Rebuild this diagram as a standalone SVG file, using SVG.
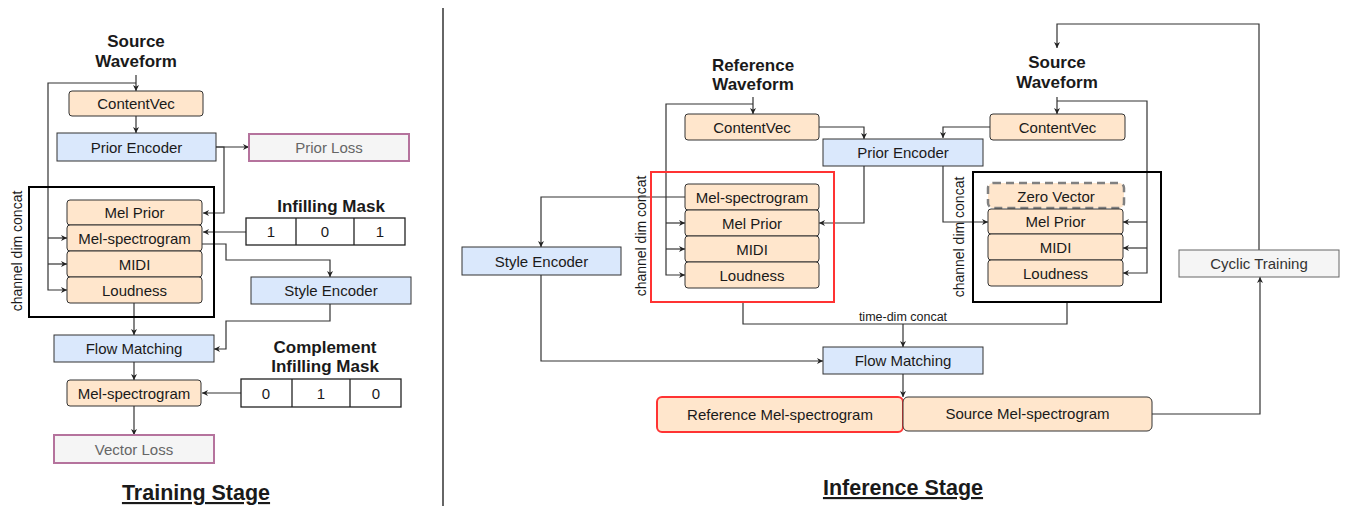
<svg xmlns="http://www.w3.org/2000/svg" width="1345" height="506" viewBox="0 0 1345 506">
<defs>
<marker id="ah" viewBox="0 0 10 10" refX="10" refY="5" markerWidth="6" markerHeight="6" markerUnits="userSpaceOnUse" orient="auto">
<path d="M0,0 L10,5 L0,10 L3,5 Z" fill="#222"/>
</marker>
<style>
text{font-family:"Liberation Sans",Arial,sans-serif;fill:#1a1a1a;}
.lbl{font-size:15px;text-anchor:middle;}
.hd{font-size:17px;font-weight:bold;text-anchor:middle;}
.stage{font-size:21.5px;font-weight:bold;text-anchor:middle;text-decoration:underline;}
.rot{font-size:14px;text-anchor:middle;}
.pe{fill:#ffe6cc;stroke:#333;stroke-width:1;}
.bl{fill:#dae8fc;stroke:#333;stroke-width:1;}
.loss{fill:#f5f5f5;stroke:#b5739d;stroke-width:2;}
.gy{fill:#666;}
.cell{fill:#fff;stroke:#222;stroke-width:1.3;}
.c{fill:none;stroke:#333;stroke-width:1.2;}
.ca{fill:none;stroke:#333;stroke-width:1.2;marker-end:url(#ah);}
</style>
</defs>

<line x1="443" y1="8" x2="443" y2="506" stroke="#333" stroke-width="1.5"/>

<g id="connectors">
<!-- training -->
<path class="ca" d="M136,75 V91"/>
<path class="ca" d="M136,83 H48 V290 H67"/>
<path class="ca" d="M48,238 H67"/>
<path class="ca" d="M48,264 H67"/>
<path class="ca" d="M136,116 V133"/>
<path class="ca" d="M216,147 H249"/>
<path class="ca" d="M216,147 H224 V213 H203"/>
<path class="ca" d="M246,232 H203"/>
<path class="ca" d="M202,244 H226 V260 H330 V277"/>
<path class="ca" d="M134,303 V335"/>
<path class="ca" d="M330,304 V321 H226 V349 H214"/>
<path class="ca" d="M134,362 V380"/>
<path class="ca" d="M241,393 H202"/>
<path class="ca" d="M134,406 V435"/>
<!-- inference -->
<path class="ca" d="M753,97 V114"/>
<path class="ca" d="M753,104 H666 V275 H685"/>
<path class="ca" d="M666,223 H685"/>
<path class="ca" d="M666,249 H685"/>
<path class="ca" d="M819,127 H864 V139"/>
<path class="ca" d="M864,166 V223 H819"/>
<path class="ca" d="M685,197 H541 V247"/>
<path class="ca" d="M541,275 V361 H823"/>
<path class="c" d="M743,302 V324 H1067 V302"/>
<path class="ca" d="M903,324 V347"/>
<path class="ca" d="M903,374 V397"/>
<path class="ca" d="M1152,414 H1260 V277"/>
<path class="ca" d="M1259,250 V24 H1057 V48"/>
<path class="ca" d="M1057,97 V114"/>
<path class="ca" d="M1057,101 H1147 V273 H1123"/>
<path class="ca" d="M1147,222 H1123"/>
<path class="ca" d="M1147,248 H1123"/>
<path class="ca" d="M990,127 H943 V138"/>
<path class="ca" d="M943,166 V222 H988"/>
<text x="903" y="321" style="font-size:12.5px;text-anchor:middle">time-dim concat</text>
</g>

<!-- ================= Training Stage ================= -->
<g id="t-source"><text class="hd" x="136" y="47">Source</text><text class="hd" x="136" y="67">Waveform</text></g>
<g id="t-contentvec"><rect class="pe" x="69" y="91" width="134" height="25" rx="3"/><text class="lbl" x="136" y="109">ContentVec</text></g>
<g id="t-prior-encoder"><rect class="bl" x="57" y="133" width="159" height="28"/><text class="lbl" x="136.5" y="152.5">Prior Encoder</text></g>
<g id="t-prior-loss"><rect class="loss" x="249" y="134" width="160" height="27"/><text class="lbl gy" x="329" y="153">Prior Loss</text></g>
<g id="t-concat">
<rect x="29" y="187" width="185" height="130" fill="none" stroke="#000" stroke-width="2"/>
<text class="rot" transform="translate(22,251) rotate(-90)">channel dim concat</text>
</g>
<g id="t-mel-prior"><rect class="pe" x="67" y="200" width="135" height="25" rx="3"/><text class="lbl" x="134.5" y="218">Mel Prior</text></g>
<g id="t-mel-spec"><rect class="pe" x="67" y="225" width="135" height="26" rx="3"/><text class="lbl" x="134.5" y="243.5">Mel-spectrogram</text></g>
<g id="t-midi"><rect class="pe" x="67" y="251" width="135" height="26" rx="3"/><text class="lbl" x="134.5" y="269.5">MIDI</text></g>
<g id="t-loudness"><rect class="pe" x="67" y="277" width="135" height="26" rx="3"/><text class="lbl" x="134.5" y="295.5">Loudness</text></g>
<g id="t-infill-mask">
<text class="hd" x="331" y="212">Infilling Mask</text>
<rect class="cell" x="246" y="218" width="159" height="27"/>
<line x1="296" y1="218" x2="296" y2="245" stroke="#222" stroke-width="1.3"/>
<line x1="354" y1="218" x2="354" y2="245" stroke="#222" stroke-width="1.3"/>
<text class="lbl" x="271" y="237">1</text><text class="lbl" x="325" y="237">0</text><text class="lbl" x="380" y="237">1</text>
</g>
<g id="t-style-encoder"><rect class="bl" x="251" y="277" width="160" height="27"/><text class="lbl" x="331" y="296">Style Encoder</text></g>
<g id="t-flow"><rect class="bl" x="54" y="335" width="160" height="27"/><text class="lbl" x="134" y="354">Flow Matching</text></g>
<g id="t-comp-mask">
<text class="hd" x="325" y="353">Complement</text><text class="hd" x="325" y="372">Infilling Mask</text>
<rect class="cell" x="241" y="379" width="160" height="28"/>
<line x1="292" y1="379" x2="292" y2="407" stroke="#222" stroke-width="1.3"/>
<line x1="350" y1="379" x2="350" y2="407" stroke="#222" stroke-width="1.3"/>
<text class="lbl" x="266" y="399">0</text><text class="lbl" x="321" y="399">1</text><text class="lbl" x="376" y="399">0</text>
</g>
<g id="t-mel-out"><rect class="pe" x="67" y="380" width="134" height="26" rx="3"/><text class="lbl" x="134" y="398.5">Mel-spectrogram</text></g>
<g id="t-vector-loss"><rect class="loss" x="54" y="435" width="160" height="28"/><text class="lbl gy" x="134" y="454.5">Vector Loss</text></g>
<text class="stage" x="196" y="500">Training Stage</text>

<!-- ================= Inference Stage ================= -->
<g id="i-ref-wave"><text class="hd" x="753" y="71">Reference</text><text class="hd" x="753" y="90">Waveform</text></g>
<g id="i-src-wave"><text class="hd" x="1057" y="68">Source</text><text class="hd" x="1057" y="88">Waveform</text></g>
<g id="i-ref-contentvec"><rect class="pe" x="685" y="114" width="134" height="26" rx="3"/><text class="lbl" x="752" y="132.5">ContentVec</text></g>
<g id="i-src-contentvec"><rect class="pe" x="990" y="114" width="135" height="26" rx="3"/><text class="lbl" x="1057.5" y="132.5">ContentVec</text></g>
<g id="i-prior-encoder"><rect class="bl" x="823" y="139" width="160" height="27"/><text class="lbl" x="903" y="158">Prior Encoder</text></g>
<g id="i-ref-concat">
<rect x="651" y="172" width="183" height="130" fill="none" stroke="#ff3333" stroke-width="2"/>
<text class="rot" transform="translate(646,236) rotate(-90)">channel dim concat</text>
</g>
<g id="i-ref-mel"><rect class="pe" x="685" y="184" width="134" height="26" rx="3"/><text class="lbl" x="752" y="202.5">Mel-spectrogram</text></g>
<g id="i-ref-prior"><rect class="pe" x="685" y="210" width="134" height="26" rx="3"/><text class="lbl" x="752" y="228.5">Mel Prior</text></g>
<g id="i-ref-midi"><rect class="pe" x="685" y="236" width="134" height="26" rx="3"/><text class="lbl" x="752" y="254.5">MIDI</text></g>
<g id="i-ref-loud"><rect class="pe" x="685" y="262" width="134" height="26" rx="3"/><text class="lbl" x="752" y="280.5">Loudness</text></g>
<g id="i-style-encoder"><rect class="bl" x="462" y="247" width="159" height="28"/><text class="lbl" x="541.5" y="266.5">Style Encoder</text></g>
<g id="i-src-concat">
<rect x="973" y="172" width="188" height="130" fill="none" stroke="#000" stroke-width="2"/>
<text class="rot" transform="translate(964,237) rotate(-90)">channel dim concat</text>
</g>
<g id="i-zero"><rect x="988" y="183" width="136" height="25" rx="5" fill="#ffe6cc" stroke="#808080" stroke-width="2.5" stroke-dasharray="8,5"/><text class="lbl" x="1056" y="202">Zero Vector</text></g>
<g id="i-src-prior"><rect class="pe" x="988" y="209" width="135" height="25" rx="3"/><text class="lbl" x="1055.5" y="227">Mel Prior</text></g>
<g id="i-src-midi"><rect class="pe" x="988" y="234" width="135" height="26" rx="3"/><text class="lbl" x="1055.5" y="252.5">MIDI</text></g>
<g id="i-src-loud"><rect class="pe" x="988" y="260" width="135" height="26" rx="3"/><text class="lbl" x="1055.5" y="278.5">Loudness</text></g>
<g id="i-flow"><rect class="bl" x="823" y="347" width="160" height="27"/><text class="lbl" x="903" y="366">Flow Matching</text></g>
<g id="i-ref-mel-out"><rect x="657" y="397" width="246" height="35" rx="5" fill="#ffe6cc" stroke="#ff3333" stroke-width="2"/><text class="lbl" x="780" y="420">Reference Mel-spectrogram</text></g>
<g id="i-src-mel-out"><rect class="pe" x="903" y="397" width="249" height="34" rx="5"/><text class="lbl" x="1027.5" y="419">Source Mel-spectrogram</text></g>
<g id="i-cyclic"><rect x="1179" y="250" width="160" height="27" fill="#f5f5f5" stroke="#666" stroke-width="1"/><text class="lbl" x="1259" y="269" style="fill:#333">Cyclic Training</text></g>
<text class="stage" x="903" y="495">Inference Stage</text>
</svg>
